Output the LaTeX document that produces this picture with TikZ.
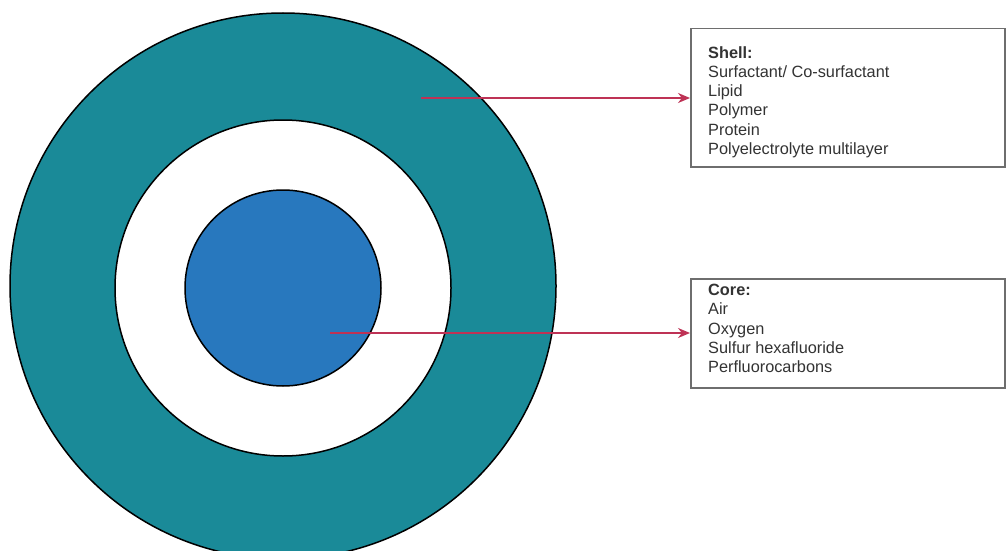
\documentclass[tikz,border=0pt]{standalone}
\usepackage{fontspec}
\setmainfont{Liberation Sans}
\usetikzlibrary{arrows.meta}
\definecolor{shellteal}{RGB}{26,138,152}
\definecolor{coreblue}{RGB}{40,120,190}
\definecolor{arrowred}{RGB}{190,50,85}
\definecolor{boxgray}{RGB}{110,110,110}
\begin{document}
\begin{tikzpicture}[x=1pt,y=-1pt,
  ring/.style={draw=black,line width=1.5pt},
  infobox/.style={draw=boxgray,line width=1.5pt,fill=white,inner sep=0pt,anchor=north west},
  infotext/.style={anchor=north west,inner sep=0pt,align=left,font=\fontsize{16.3}{19.3}\selectfont,text=black!80},
  pointer/.style={draw=arrowred,line width=1.3pt,-{Stealth[length=12pt,width=10pt]}}]
\useasboundingbox (0,0) rectangle (1006,551);
\clip (0,0) rectangle (1006,551);
\fill[white] (0,0) rectangle (1006,551);
% circles
\node[ring,circle,fill=shellteal,minimum size=546pt,inner sep=0pt] (shell) at (283,286) {};
\node[ring,circle,fill=white,minimum size=336pt,inner sep=0pt] (gap) at (283,288) {};
\node[ring,circle,fill=coreblue,minimum size=196pt,inner sep=0pt] (core) at (283,288) {};
% boxes
\node[infobox,minimum width=314pt,minimum height=138pt] (shellbox) at (690,28) {};
\node[infobox,minimum width=314pt,minimum height=109pt] (corebox) at (690,278) {};
\node[infotext] (shelltext) at (708,46) {\textbf{Shell:}\\Surfactant/ Co-surfactant\\Lipid\\Polymer\\Protein\\Polyelectrolyte multilayer};
\node[infotext] (coretext) at (708,284) {\textbf{Core:}\\Air\\Oxygen\\Sulfur hexafluoride\\Perfluorocarbons};
% arrows
\coordinate (sstart) at (421,98);
\coordinate (cstart) at (330,333);
\draw[pointer] (sstart) -- (sstart -| shellbox.west);
\draw[pointer] (cstart) -- (cstart -| corebox.west);
\end{tikzpicture}
\end{document}
